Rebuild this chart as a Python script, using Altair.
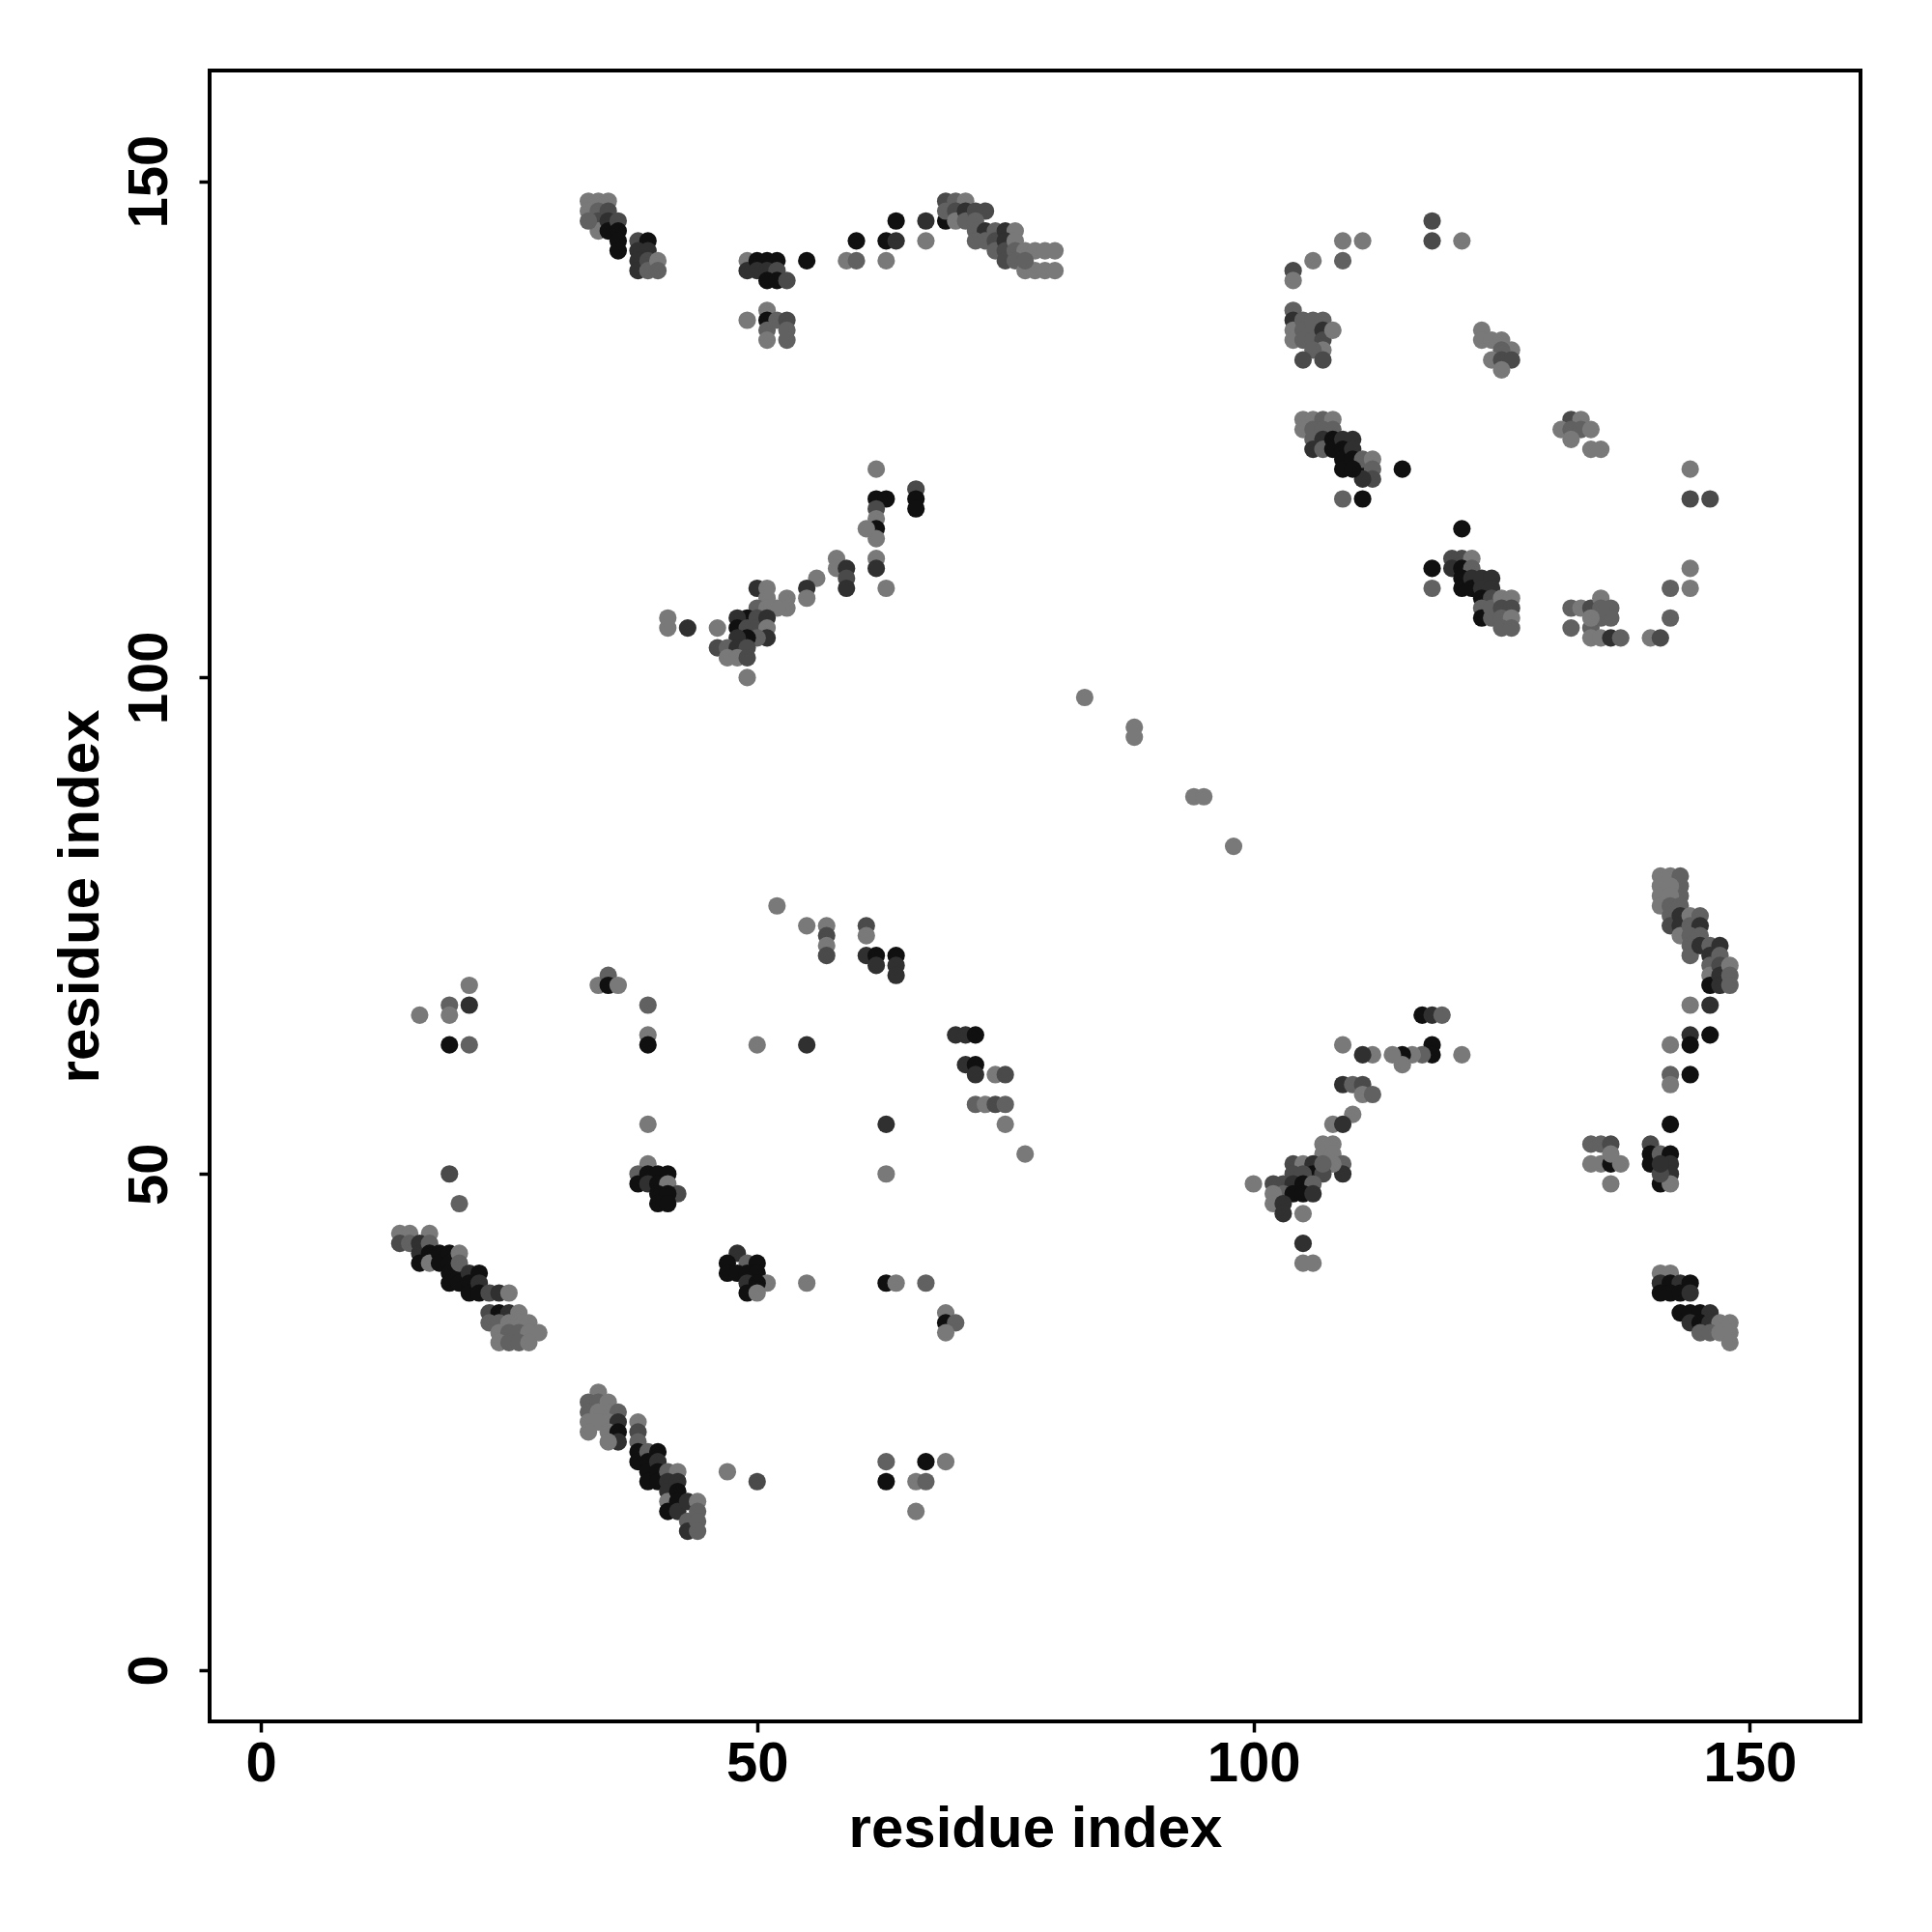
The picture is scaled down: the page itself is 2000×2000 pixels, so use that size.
import altair as alt
import pandas as pd

# shade codes: l = light grey ... k = near black
top_left = [(33,148,'l'),(34,148,'l'),(35,148,'l'),(33,147,'l'),(34,147,'g'),(34,146,'m'),(34,145,'l'),(33,146,'g'),
            (35,147,'m'),(35,146,'d'),(35,145,'k'),(36,146,'m'),(36,145,'k'),(36,144,'k'),(36,143,'k'),
            (38,144,'m'),(39,144,'k'),(38,143,'d'),(39,143,'d'),(38,142,'d'),(38,141,'d'),(39,142,'m'),(39,141,'g'),(40,142,'l'),(40,141,'g')]
top_b = [(49,142,'l'),(49,141,'d'),(50,142,'k'),(51,142,'k'),(52,142,'k'),(50,141,'d'),(51,141,'d'),(52,141,'m'),(51,140,'k'),(52,140,'k'),(53,140,'m'),(55,142,'k'),
         (49,136,'l'),(51,137,'l'),(51,136,'k'),(51,135,'g'),(51,134,'l'),(52,136,'g'),(53,136,'m'),(53,135,'g'),(53,134,'g')]
top_mid = [(59,142,'l'),(60,142,'g'),(60,144,'k'),(63,144,'k'),(64,144,'d'),(64,146,'k'),(63,142,'l'),(67,146,'d'),(67,144,'l'),(69,146,'k'),
           (69,148,'m'),(70,148,'g'),(71,148,'l'),(69,147,'g'),(70,147,'m'),(70,146,'l'),(71,147,'d'),(71,146,'g'),(72,147,'m'),(73,147,'m'),
           (72,146,'g'),(72,145,'g'),(73,145,'d'),(72,144,'g'),(73,144,'g'),(74,145,'g'),(74,144,'m'),(74,143,'g'),(75,145,'d'),(76,145,'l'),
           (75,144,'d'),(75,143,'m'),(75,142,'m'),(76,144,'l'),(76,143,'g'),(77,143,'l'),(78,143,'l'),(79,143,'l'),(80,143,'l'),(76,142,'g'),
           (77,141,'l'),(78,141,'l'),(79,141,'l'),(80,141,'l'),(77,142,'g')]
top_right = [(118,146,'m'),(118,144,'m'),(121,144,'l'),(109,144,'l'),(111,144,'l'),(106,142,'l'),(109,142,'g'),(104,141,'m'),(104,140,'l'),
             (104,137,'g'),(104,136,'d'),(104,135,'l'),(104,134,'l'),(105,136,'g'),(105,135,'g'),(105,134,'g'),(106,136,'g'),(106,135,'g'),
             (106,134,'g'),(107,136,'g'),(107,135,'d'),(107,134,'m'),(108,135,'l'),(107,133,'l'),(106,133,'g'),(105,132,'m'),(107,132,'m'),
             (123,135,'l'),(123,134,'l'),(124,134,'l'),(125,134,'l'),(126,133,'l'),(125,133,'g'),(124,132,'l'),(125,132,'m'),(126,132,'m'),(125,131,'l')]
upper_diag = [(105,126,'l'),(106,126,'l'),(107,126,'g'),(108,126,'l'),(105,125,'l'),(106,125,'g'),(107,125,'g'),(108,125,'g'),(106,124,'g'),
              (106,123,'d'),(107,124,'d'),(107,123,'g'),(108,124,'k'),(108,123,'k'),(109,124,'d'),(110,124,'d'),(109,123,'k'),(109,122,'k'),
              (109,121,'k'),(110,123,'d'),(110,122,'k'),(111,121,'k'),(111,122,'g'),(112,122,'l'),(112,121,'g'),(112,120,'m'),(111,120,'d'),
              (110,121,'k'),(115,121,'k'),(109,118,'g'),(111,118,'k')]
right_upper = [(132,126,'m'),(133,126,'l'),(131,125,'l'),(132,125,'g'),(133,125,'g'),(134,125,'l'),(132,124,'l'),(134,123,'l'),(135,123,'l'),
               (144,121,'l'),(144,118,'m'),(146,118,'m'),(121,115,'k'),(118,111,'k'),(118,109,'g'),
               (120,112,'m'),(121,112,'m'),(122,112,'l'),(120,111,'d'),(121,111,'k'),(122,111,'g'),(121,110,'k'),(121,109,'k'),(122,110,'d'),
               (122,109,'k'),(123,110,'d'),(124,110,'d'),(123,109,'d'),(124,109,'d'),(123,108,'k'),(124,108,'m'),(123,107,'g'),(123,106,'k'),
               (124,107,'g'),(124,106,'g'),(125,108,'l'),(126,108,'l'),(125,107,'m'),(126,107,'m'),(125,106,'g'),(126,106,'l'),(125,105,'g'),(126,105,'g'),
               (132,107,'g'),(133,107,'l'),(134,107,'m'),(135,108,'l'),(136,107,'g'),(132,105,'g'),(134,105,'g'),(135,106,'g'),(136,106,'g'),
               (135,107,'g'),(134,106,'l'),(134,104,'l'),(135,104,'l'),(136,104,'d'),(137,104,'g'),(140,104,'l'),(141,104,'m'),
               (142,106,'g'),(142,109,'g'),(144,109,'l'),(144,111,'l')]
mid_left = [(62,121,'l'),(62,118,'k'),(63,118,'k'),(62,117,'m'),(62,116,'l'),(62,115,'k'),(62,114,'l'),(61,115,'l'),(62,112,'l'),(62,111,'d'),
            (66,119,'m'),(66,118,'k'),(66,117,'k'),(63,109,'l'),
            (58,112,'l'),(58,111,'l'),(59,111,'d'),(59,110,'m'),(59,109,'d'),(56,110,'l'),(55,109,'d'),(55,108,'l'),(53,108,'l'),(53,107,'l'),(52,107,'l'),
            (50,109,'d'),(51,109,'l'),(51,108,'l'),(50,107,'g'),(51,107,'l'),(49,106,'k'),(48,106,'d'),(48,105,'k'),(49,105,'m'),(50,106,'m'),
            (50,105,'m'),(51,106,'d'),(51,105,'l'),(51,104,'d'),(50,104,'g'),(49,104,'k'),(48,104,'d'),(46,105,'l'),(46,103,'m'),(47,103,'g'),
            (48,103,'d'),(49,103,'m'),(47,102,'l'),(48,102,'l'),(49,102,'m'),(49,100,'l'),(41,106,'l'),(41,105,'l'),(43,105,'d')]
low_left = [(14,44,'l'),(15,44,'l'),(17,44,'l'),(14,43,'m'),(15,43,'g'),(16,43,'d'),(16,42,'d'),(16,41,'k'),(17,43,'g'),(17,42,'k'),(17,41,'l'),
            (18,42,'k'),(18,41,'k'),(19,42,'k'),(19,41,'k'),(19,40,'k'),(19,39,'k'),(20,40,'k'),(20,42,'l'),(20,41,'g'),(20,39,'k'),
            (21,40,'d'),(21,39,'k'),(21,38,'k'),(22,40,'k'),(22,39,'d'),(22,38,'k'),(23,38,'m'),(24,38,'d'),(25,38,'l'),
            (23,36,'m'),(24,36,'k'),(25,36,'d'),(26,36,'l'),(23,35,'g'),(24,35,'g'),(25,35,'l'),(26,35,'l'),(27,35,'l'),(28,34,'l'),
            (24,34,'l'),(25,34,'g'),(26,34,'g'),(27,34,'l'),(24,33,'l'),(25,33,'g'),(26,33,'g'),(27,33,'l')]
low_diag = [(34,28,'l'),(33,27,'g'),(34,27,'g'),(35,27,'l'),(33,26,'g'),(34,26,'l'),(35,26,'l'),(36,26,'g'),(33,25,'l'),(34,25,'l'),(35,25,'l'),
            (36,25,'d'),(33,24,'l'),(35,24,'l'),(36,24,'k'),(36,23,'d'),(35,23,'l'),
            (38,25,'l'),(38,24,'m'),(38,23,'g'),(38,22,'k'),(38,21,'k'),(39,22,'g'),(40,22,'k'),(39,21,'k'),(39,20,'k'),(39,19,'k'),(40,21,'d'),
            (40,20,'k'),(40,19,'k'),(41,20,'g'),(42,20,'l'),(41,19,'d'),(41,18,'d'),(41,17,'l'),(41,16,'k'),(42,19,'d'),(42,18,'k'),(42,17,'k'),
            (42,16,'d'),(43,17,'d'),(44,17,'l'),(43,15,'g'),(43,14,'d'),(44,16,'g'),(44,15,'g'),(44,14,'g'),
            (47,20,'l'),(50,19,'m'),(63,21,'g'),(63,19,'k'),(67,21,'k'),(69,21,'l'),(66,19,'l'),(67,19,'g'),(66,16,'l')]
middle = [(52,77,'l'),(55,75,'l'),(57,75,'l'),(57,74,'m'),(57,73,'l'),(57,72,'m'),(61,75,'m'),(61,74,'l'),(61,72,'d'),(62,72,'k'),(62,71,'d'),
          (64,72,'k'),(64,71,'d'),(64,70,'d'),
          (34,69,'l'),(35,70,'g'),(35,69,'k'),(36,69,'l'),(39,67,'g'),(39,64,'l'),(39,63,'k'),(39,55,'l'),(50,63,'l'),(55,63,'d'),
          (70,64,'d'),(71,64,'d'),(72,64,'k'),(71,61,'d'),(72,61,'k'),(72,60,'d'),(74,60,'l'),(75,60,'m'),(72,57,'g'),(73,57,'l'),(74,57,'m'),
          (75,57,'g'),(75,55,'l'),(77,52,'l'),(63,55,'d'),(63,50,'l'),
          (39,51,'l'),(38,50,'g'),(39,50,'k'),(40,50,'k'),(41,50,'k'),(38,49,'k'),(39,49,'d'),(40,49,'k'),(41,49,'l'),(42,48,'m'),(40,48,'k'),
          (41,48,'k'),(40,47,'k'),(41,47,'k'),
          (48,42,'d'),(47,41,'k'),(49,41,'g'),(50,41,'k'),(47,40,'k'),(48,40,'k'),(49,40,'k'),(50,40,'k'),(51,39,'l'),(49,39,'d'),(50,39,'k'),
          (49,38,'k'),(50,38,'l'),(55,39,'l'),(63,39,'k'),(64,39,'l'),(67,39,'g'),(69,36,'l'),(69,35,'k'),(70,35,'g'),(69,34,'l'),
          (16,66,'l'),(19,67,'g'),(19,66,'l'),(21,69,'l'),(21,67,'d'),(19,63,'k'),(21,63,'g'),(19,50,'m'),(20,47,'g')]
low_right = [(117,66,'k'),(118,66,'d'),(119,66,'g'),(118,63,'k'),(118,62,'k'),(117,62,'g'),(116,62,'l'),(115,62,'k'),(114,62,'l'),(115,61,'l'),
             (112,62,'l'),(111,62,'d'),(121,62,'l'),(109,63,'l'),(109,59,'d'),(110,59,'g'),(111,59,'m'),(111,58,'l'),(112,58,'g'),(110,56,'l'),
             (108,55,'l'),(109,55,'d'),(107,53,'l'),(108,53,'l'),(107,52,'l'),(108,52,'l'),(109,51,'g'),(109,50,'d'),(108,51,'l'),(104,51,'m'),
             (105,51,'l'),(106,51,'d'),(106,50,'k'),(107,50,'m'),(107,51,'g'),(104,50,'m'),(105,50,'m'),(103,49,'m'),(104,49,'d'),(105,49,'k'),
             (106,49,'g'),(102,49,'m'),(103,48,'g'),(104,48,'k'),(105,48,'k'),(106,48,'d'),(102,48,'l'),(102,47,'l'),(103,47,'d'),(103,46,'d'),
             (105,46,'l'),(100,49,'l'),(105,43,'d'),(105,41,'l'),(106,41,'l')]
far_right = [(141,80,'l'),(141,79,'l'),(141,78,'l'),(141,77,'l'),(142,80,'l'),(143,80,'g'),(143,79,'g'),(143,78,'g'),(142,79,'l'),(142,78,'l'),
             (142,77,'g'),(142,76,'g'),(142,75,'m'),(143,77,'g'),(143,76,'d'),(143,75,'d'),(143,74,'l'),(144,76,'l'),(145,76,'g'),(144,75,'g'),
             (145,75,'d'),(144,74,'g'),(144,73,'g'),(144,72,'g'),(145,74,'g'),(145,73,'d'),(146,73,'g'),(147,73,'d'),(146,72,'d'),(146,71,'g'),
             (146,70,'l'),(146,69,'k'),(147,72,'g'),(147,71,'m'),(147,70,'d'),(147,69,'d'),(148,71,'l'),(148,70,'g'),(148,69,'g'),
             (144,67,'l'),(146,67,'d'),(144,64,'d'),(144,63,'k'),(146,64,'k'),(142,63,'l'),(142,60,'g'),(142,59,'l'),(144,60,'k'),(142,55,'k'),
             (134,53,'g'),(135,53,'g'),(136,53,'m'),(134,51,'l'),(135,51,'l'),(136,51,'k'),(137,51,'l'),(136,49,'l'),(136,52,'l'),
             (140,53,'m'),(140,52,'k'),(140,51,'k'),(141,52,'g'),(142,52,'k'),(142,51,'d'),(142,50,'d'),(141,49,'k'),(142,49,'l'),(141,50,'m'),(141,51,'d'),
             (141,40,'l'),(142,40,'l'),(141,39,'d'),(142,39,'k'),(143,39,'d'),(144,39,'k'),(141,38,'k'),(142,38,'k'),(143,38,'k'),(144,38,'d'),
             (143,36,'k'),(144,36,'k'),(145,36,'k'),(146,36,'d'),(144,35,'d'),(145,35,'k'),(146,35,'d'),(147,35,'l'),(148,35,'l'),
             (145,34,'g'),(146,34,'g'),(147,34,'l'),(148,34,'l'),(148,33,'l')]
sparse_diag = [(83,98,'l'),(88,95,'l'),(88,94,'l'),(94,88,'l'),(95,88,'l'),(98,83,'l')]

groups = [top_left, top_b, top_mid, top_right, upper_diag, right_upper, mid_left,
          low_left, low_diag, middle, low_right, far_right, sparse_diag]
rows = [{"x": a, "y": b, "s": c} for g in groups for (a, b, c) in g]
df = pd.DataFrame(rows)

shade_levels = ['l', 'g', 'm', 'd', 'k']
shade_colors = ['#797979', '#616161', '#4a4a4a', '#303030', '#101010']
tick_values = [0, 50, 100, 150]
axis_title = "residue index"
FONT = "Liberation Sans"

W = 1709
H = 1709

x_axis = alt.Axis(values=tick_values, title=axis_title, grid=False, domain=False,
                  labelFont=FONT, labelFontSize=58, labelFontWeight="bold", labelColor="black",
                  tickColor="black", tickSize=11, tickWidth=3.5, labelPadding=4, labelFlush=False,
                  labelBaseline="top", labelAlign="center",
                  titleFont=FONT, titleFontSize=60, titleFontWeight="bold", titleColor="black",
                  titleX=W / 2, titleY=129, titleBaseline="alphabetic", titleAlign="center")
y_axis = alt.Axis(values=tick_values, title=axis_title, grid=False, domain=False,
                  labelFont=FONT, labelFontSize=58, labelFontWeight="bold", labelColor="black",
                  tickColor="black", tickSize=11, tickWidth=3.5, labelPadding=34, labelFlush=False,
                  labelAngle=270, labelAlign="center", labelBaseline="alphabetic",
                  titleFont=FONT, titleFontSize=60, titleFontWeight="bold", titleColor="black",
                  titleAngle=270, titleX=-116, titleY=H / 2, titleBaseline="alphabetic", titleAlign="center")

chart = alt.Chart(df).mark_circle(size=330, opacity=1).encode(
    x=alt.X("x:Q", scale=alt.Scale(domain=[-5.16, 161.16], nice=False, zero=False), axis=x_axis),
    y=alt.Y("y:Q", scale=alt.Scale(domain=[-5.16, 161.16], nice=False, zero=False), axis=y_axis),
    color=alt.Color("s:N", scale=alt.Scale(domain=shade_levels, range=shade_colors), legend=None),
).properties(
    width=W, height=H,
    padding={"left": 209, "top": 65, "right": 60, "bottom": 200},
    autosize=alt.AutoSizeParams(type="none"),
    background="white",
).configure_view(stroke="black", strokeWidth=4)

chart.save("out.html", embed_options={"renderer": "svg", "actions": False})
